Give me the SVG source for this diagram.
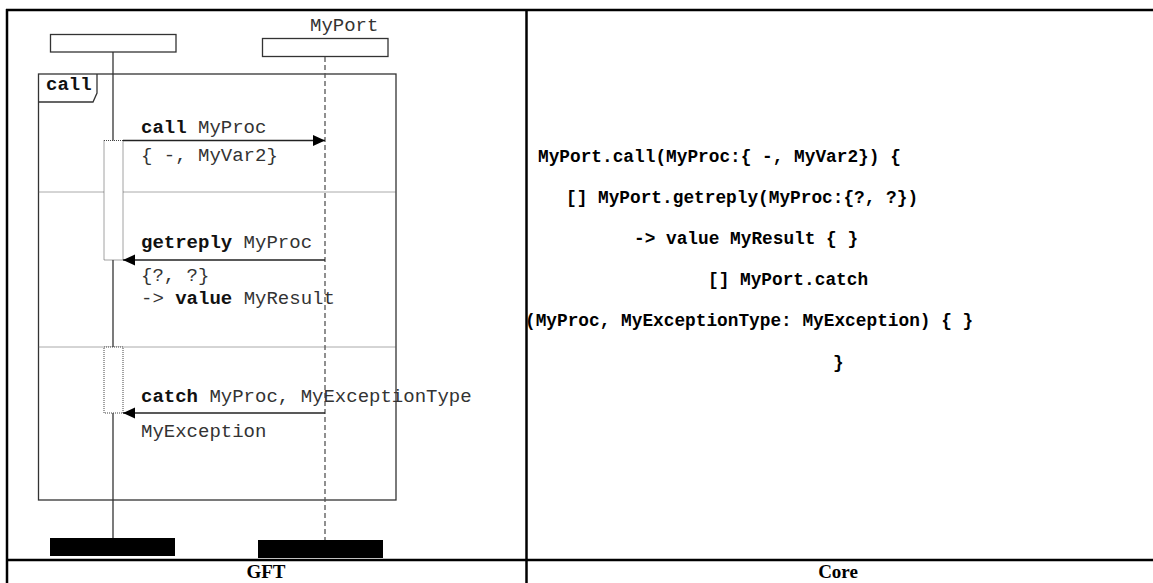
<svg xmlns="http://www.w3.org/2000/svg" width="1153" height="583" viewBox="0 0 1153 583">
<style>
.tbl{stroke:#000;stroke-width:2.5;fill:none}
.box{fill:#fff;stroke:#333;stroke-width:1.3}
.frame{fill:none;stroke:#333;stroke-width:1.3}
.sep{stroke:#555;stroke-width:1;stroke-dasharray:1,1;fill:none}
.act{fill:#fff;stroke:#444;stroke-width:1;stroke-dasharray:1,1}
.life{stroke:#333;stroke-width:1.3}
.dash{stroke:#555;stroke-width:1.3;stroke-dasharray:5,3}
.msg{stroke:#222;stroke-width:1.3;fill:none}
.m{font-family:"Liberation Mono","Courier New",monospace;font-size:19px;fill:#333}
.b{font-weight:bold;fill:#111}
.core{font-family:"Liberation Mono","Courier New",monospace;font-size:17.8px;font-weight:bold;fill:#000}
.cap{font-family:"Liberation Serif","Times New Roman",serif;font-size:19px;font-weight:bold;fill:#000;text-anchor:middle}
</style>
<defs>
<marker id="ah" markerWidth="12" markerHeight="12" refX="12" refY="6" orient="auto" markerUnits="userSpaceOnUse">
<path d="M0,0.5 L12,6 L0,11.5 Z" fill="#000"/>
</marker>
</defs>
<rect width="1153" height="583" fill="#fff"/>
<g id="table">
<line class="tbl" x1="6" y1="10" x2="1153" y2="10"/>
<line class="tbl" x1="7" y1="9" x2="7" y2="583"/>
<line class="tbl" x1="526.5" y1="9" x2="526.5" y2="583"/>
<line class="tbl" x1="6" y1="560" x2="1153" y2="560"/>
<text class="cap" x="266" y="578">GFT</text>
<text class="cap" x="838" y="578">Core</text>
</g>
<g id="frame-call">
<rect class="frame" x="38.5" y="74" width="357.5" height="426"/>
<path class="frame" d="M38.5,102 L93,102 L97,93 L97,74"/>
<text class="m b" x="46" y="90">call</text>
<line class="sep" x1="38.5" y1="192" x2="396" y2="192"/>
<line class="sep" x1="38.5" y1="347" x2="396" y2="347"/>
</g>
<g id="lifeline-left">
<rect class="box" x="50.5" y="34.5" width="125.5" height="17.5"/>
<line class="life" x1="113" y1="52" x2="113" y2="538"/>
<rect x="50" y="538" width="125" height="18" fill="#000"/>
</g>
<g id="lifeline-myport">
<text class="m" x="310" y="31">MyPort</text>
<rect class="box" x="262.5" y="38.5" width="125.5" height="18"/>
<line class="dash" x1="325" y1="57" x2="325" y2="540"/>
<rect x="258" y="540" width="125" height="18" fill="#000"/>
</g>
<g id="activations">
<rect class="act" x="104" y="140.5" width="19" height="119.5"/>
<rect class="act" x="104" y="347" width="19" height="66"/>
</g>
<g id="connectors">
<line class="msg" x1="123" y1="140.5" x2="325" y2="140.5" marker-end="url(#ah)"/>
<line class="msg" x1="325" y1="260" x2="123" y2="260" marker-end="url(#ah)"/>
<line class="msg" x1="325" y1="413" x2="123" y2="413" marker-end="url(#ah)"/>
</g>
<g id="labels">
<text class="m" x="141" y="133"><tspan class="b">call</tspan> MyProc</text>
<text class="m" x="141" y="161">{ -, MyVar2}</text>
<text class="m" x="141" y="248"><tspan class="b">getreply</tspan> MyProc</text>
<text class="m" x="141" y="281">{?, ?}</text>
<text class="m" x="141" y="304">-&gt; <tspan class="b">value</tspan> MyResult</text>
<text class="m" x="141" y="402"><tspan class="b">catch</tspan> MyProc, MyExceptionType</text>
<text class="m" x="141" y="437">MyException</text>
</g>
<g id="core-text">
<text class="core" x="538" y="162">MyPort.call(MyProc:{ -, MyVar2}) {</text>
<text class="core" x="566" y="203">[] MyPort.getreply(MyProc:{?, ?})</text>
<text class="core" x="634" y="244">-&gt; value MyResult { }</text>
<text class="core" x="708" y="285">[] MyPort.catch</text>
<text class="core" x="525" y="326">(MyProc, MyExceptionType: MyException) { }</text>
<text class="core" x="833" y="368">}</text>
</g>
</svg>
